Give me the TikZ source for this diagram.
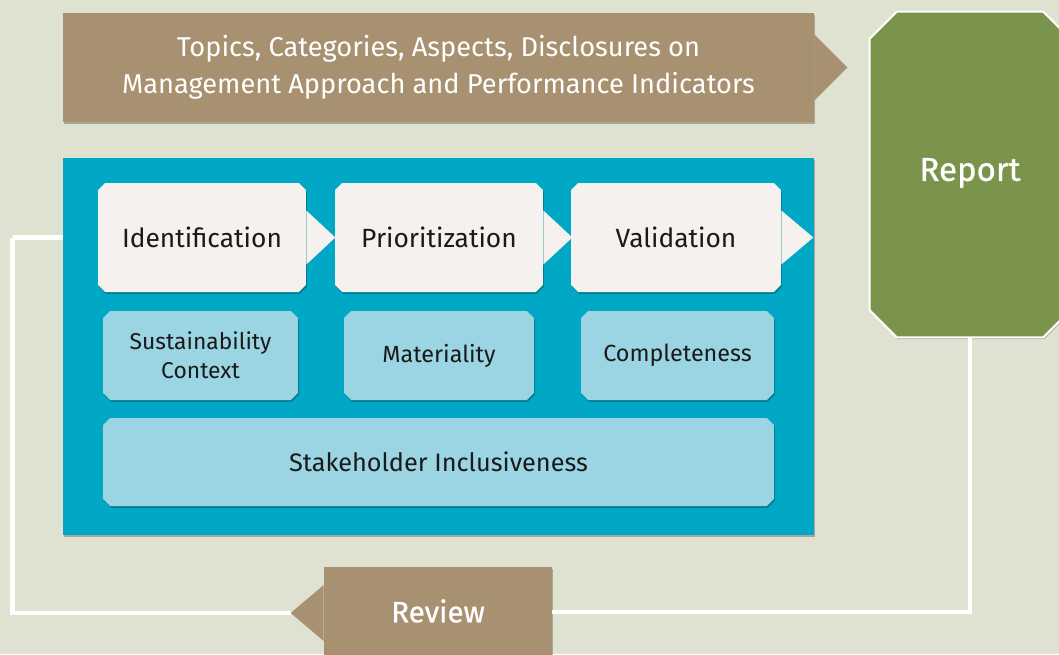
\documentclass[tikz,border=0pt]{standalone}
\usepackage{fontspec}
\setmainfont{Fira Sans}
\definecolor{bggray}{RGB}{223, 225, 209}
\definecolor{brown1}{RGB}{168, 145, 112}
\definecolor{green1}{RGB}{122, 148, 76}
\definecolor{panelblue}{RGB}{0, 168, 197}
\definecolor{stepwhite}{RGB}{244, 241, 238}
\definecolor{lightblue}{RGB}{155, 212, 226}
\definecolor{textdark}{RGB}{26, 26, 26}
\usetikzlibrary{shapes.misc, shadows, positioning, calc}

\begin{document}
\begin{tikzpicture}[x=0.02cm, y=-0.02cm,
  softshadow/.style={drop shadow={shadow xshift=0.5pt, shadow yshift=-1pt, opacity=0.25, fill=black}},
  stepbox/.style={chamfered rectangle, chamfered rectangle xsep=2pt, chamfered rectangle ysep=2pt,
    fill=stepwhite, inner sep=0pt, minimum height=2.18cm, text=textdark,
    font=\fontsize{15}{18}\selectfont, softshadow},
  principle/.style={chamfered rectangle, chamfered rectangle xsep=2pt, chamfered rectangle ysep=2pt,
    fill=lightblue, inner sep=0pt, minimum height=1.78cm, text=textdark, align=center,
    font=\fontsize{13.3}{16.5}\selectfont, softshadow},
  tab/.style={fill=stepwhite},
  loopline/.style={draw=white, line width=2.8pt}]
  % background
  \fill[bggray] (0,0) rectangle (1059,654);
  \useasboundingbox (0,0) rectangle (1059,654);

  % loop back from Report to the process
  \node[minimum width=4cm, minimum height=6.5cm, inner sep=0pt, text=white,
    font=\fontsize{18.8}{22}\selectfont\addfontfeature{FakeBold=0.8}] (report) at (970,174.5) {};
  \filldraw[fill=green1, draw=white, line width=1.2pt, softshadow]
    ($(report.north west)+(0,27)$) -- ($(report.north west)+(27,0)$)
    -- ($(report.north east)+(-27,0)$) -- ($(report.north east)+(0,27)$)
    -- ($(report.south east)+(0,-27)$) -- ($(report.south east)+(-27,0)$)
    -- ($(report.south west)+(27,0)$) -- ($(report.south west)+(0,-27)$) -- cycle;
  \node[text=white, font=\fontsize{18.8}{22}\selectfont\addfontfeature{FakeBold=0.8}] (reporttxt) at (970,173) {Report};
  \node[fill=brown1, minimum width=4.56cm, minimum height=1.8cm, inner sep=0pt, softshadow] (review) at (438,612) {};
  \node[text=white, font=\fontsize{16.8}{19}\selectfont\addfontfeature{FakeBold=0.8}] (reviewtxt) at (438,611) {Review};
  \fill[brown1] ($(review.west)+(0,-27)$) -- ++(-33,28) coordinate (revtip) -- ++(33,28) -- cycle;
  \coordinate (back) at (12.5,237.5);
  \draw[loopline] (report.south) |- (review.east);
  \draw[loopline] (revtip) -| (back);

  % Top banner
  \node[fill=brown1, minimum width=15.02cm, minimum height=2.18cm, inner sep=0pt, align=center,
    text=white, font=\fontsize{15.5}{21}\selectfont, softshadow] (topics) at (438.5,67.5)
    {Topics, Categories, Aspects, Disclosures on\\Management Approach and Performance Indicators};
  \fill[brown1] ($(topics.east)+(0,-33)$) -- ++(33,33) -- ++(-33,33) -- cycle;

  % Process panel
  \node[fill=panelblue, minimum width=15.02cm, minimum height=7.54cm, inner sep=0pt, softshadow] (panel) at (438.5,346.5) {};
  \draw[loopline] (back) -- (panel.west |- back);

  % Steps
  \node[stepbox, minimum width=4.16cm] (ident) at (202,237.5) {Identification};
  \node[stepbox, minimum width=4.16cm] (prior) at (439,237.5) {Prioritization};
  \node[stepbox, minimum width=4.2cm] (valid) at (676,237.5) {Validation};
  \fill[tab] ($(ident.east)+(0,-27)$) -- ++(29,27) -- ++(-29,27) -- cycle;
  \fill[tab] ($(prior.east)+(0,-27)$) -- ++(29,27) -- ++(-29,27) -- cycle;
  \fill[tab] ($(valid.east)+(0,-27)$) -- ++(32,27) -- ++(-32,27) -- cycle;

  % Principles
  \node[principle, minimum width=3.9cm, font=\fontsize{13}{16.5}\selectfont] (sust) at (200.5,355.5) {Sustainability\\Context};
  \node[principle, minimum width=3.8cm] (mater) at (439,355.5) {Materiality};
  \node[principle, minimum width=3.86cm] (compl) at (677.5,355.5) {Completeness};
  \node[principle, minimum width=13.42cm, minimum height=1.76cm, font=\fontsize{14.4}{17}\selectfont] (stake) at (438.5,462) {Stakeholder Inclusiveness};
\end{tikzpicture}
\end{document}
